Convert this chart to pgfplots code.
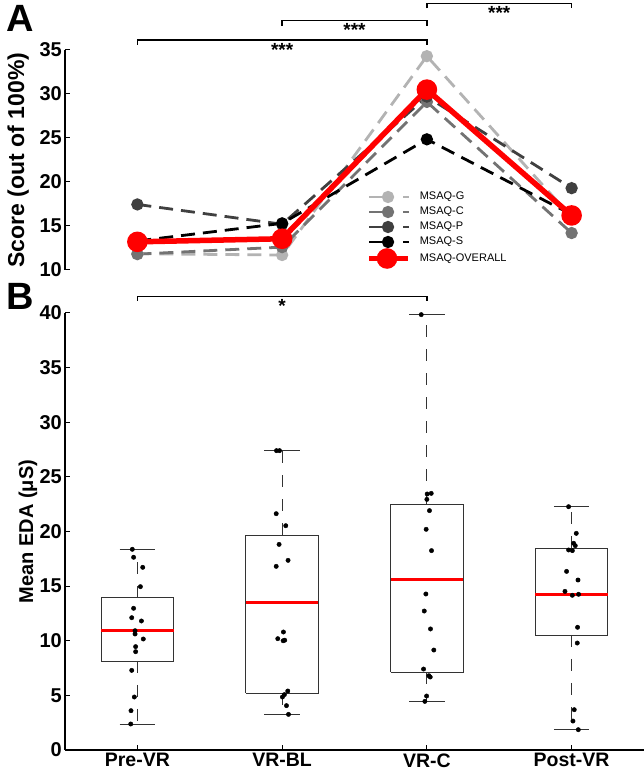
\documentclass[border=0pt]{standalone}
\usepackage{fontspec}
\setmainfont{Liberation Sans}
\usepackage{pgfplots}
\pgfplotsset{compat=1.18}

\definecolor{cG}{HTML}{B3B3B3}
\definecolor{cC}{HTML}{737373}
\definecolor{cP}{HTML}{404040}
\definecolor{boxc}{HTML}{333333}

\pgfplotsset{
  dashleg/.style={legend image code/.code={
    \draw[##1, solid, mark repeat=2, mark phase=2] plot coordinates {(0pt,0pt) (19pt,0pt) (21pt,0pt)};
    \draw[##1, solid, mark=none] (34pt,0pt) -- (40pt,0pt);
  }},
  redleg/.style={legend image code/.code={
    \draw[##1, solid, mark repeat=2, mark phase=2] plot coordinates {(0pt,0pt) (18pt,0pt) (39pt,0pt)};
  }},
  common/.style={
    scale only axis, width=579pt,
    xmin=-0.5, xmax=3.5,
    clip=false,
    tick align=inside, major tick length=5pt,
    axis line style={-, line width=1.3pt, black},
    every tick/.style={black, line width=1pt},
    /pgf/number format/assume math mode=true,
    yticklabel style={font=\fontsize{20}{20}\selectfont\bfseries, inner sep=3pt},
    xticklabel style={font=\fontsize{19.5}{19.5}\selectfont\bfseries},
  },
}

\begin{document}
\begin{tikzpicture}
\useasboundingbox (0,0) rectangle (644pt,776pt);

% ---------------- Panel A ----------------
\begin{axis}[common,
  at={(65pt,506pt)}, anchor=south west, height=220pt,
  ymin=10, ymax=35,
  axis x line=none, axis y line*=left,
  ytick={10,15,20,25,30,35},
  ylabel={Score (out of 100\%)},
  ylabel style={at={(axis description cs:-0.081,0.5)}, anchor=center, font=\fontsize{23}{23}\selectfont\bfseries},
  legend style={at={(axis cs:1.58,19.0)}, anchor=north west, draw=none, fill=none,
    inner sep=0pt, row sep=3pt,
    /tikz/every odd column/.append style={column sep=8pt},
    nodes={inner sep=1pt, text height=8pt, text depth=2pt, font=\fontsize{11}{11}\selectfont}},
  legend cell align=left,
]
\addplot[cG, line width=2.8pt, dash pattern=on 14pt off 8pt, mark=*, mark size=4.7pt, mark options={solid}, dashleg]
  coordinates {(0,11.85) (1,11.7) (2,34.3) (3,16.0)};
\addlegendentry{MSAQ-G}
\addplot[cC, line width=2.8pt, dash pattern=on 14pt off 8pt, mark=*, mark size=4.7pt, mark options={solid}, dashleg]
  coordinates {(0,11.8) (1,12.6) (2,29.1) (3,14.2)};
\addlegendentry{MSAQ-C}
\addplot[cP, line width=2.8pt, dash pattern=on 14pt off 8pt, mark=*, mark size=4.7pt, mark options={solid}, dashleg]
  coordinates {(0,17.45) (1,15.2) (2,29.7) (3,19.3)};
\addlegendentry{MSAQ-P}
\addplot[black, line width=2.8pt, dash pattern=on 14pt off 8pt, mark=*, mark size=4.7pt, mark options={solid}, dashleg]
  coordinates {(0,13.3) (1,15.3) (2,24.85) (3,16.3)};
\addlegendentry{MSAQ-S}
\addplot[red, line width=5.5pt, mark=*, mark size=7.5pt, mark options={solid}, redleg]
  coordinates {(0,13.2) (1,13.55) (2,30.5) (3,16.2)};
\addlegendentry{MSAQ-OVERALL}

% significance brackets
\draw[black, line width=1.5pt] (axis cs:0,35.57) -- (axis cs:0,36.14) -- (axis cs:2,36.14) -- (axis cs:2,35.57);
\node[anchor=north, font=\fontsize{19}{19}\selectfont\bfseries, inner sep=0pt] at (axis cs:1,35.8) {***};
\draw[black, line width=1.5pt] (axis cs:1,37.78) -- (axis cs:1,38.35) -- (axis cs:2,38.35) -- (axis cs:2,37.78);
\node[anchor=north, font=\fontsize{19}{19}\selectfont\bfseries, inner sep=0pt] at (axis cs:1.5,38.0) {***};
\draw[black, line width=1.5pt] (axis cs:2,39.72) -- (axis cs:2,40.28) -- (axis cs:3,40.28) -- (axis cs:3,39.72);
\node[anchor=north, font=\fontsize{19}{19}\selectfont\bfseries, inner sep=0pt] at (axis cs:2.5,39.93) {***};
\end{axis}

% ---------------- Panel B ----------------
\begin{axis}[common,
  at={(65pt,26pt)}, anchor=south west, height=437pt,
  ymin=0, ymax=40,
  axis x line*=bottom, axis y line*=left,
  xtick={0,1,2,3}, xticklabels={Pre-VR,VR-BL,VR-C,Post-VR},
  ytick={0,5,10,15,20,25,30,35,40},
  ylabel={Mean EDA (μS)},
  ylabel style={at={(axis description cs:-0.064,0.5)}, anchor=center, font=\fontsize{20}{20}\selectfont\bfseries},
]
% whiskers (dashed)
\addplot[boxc, line width=0.9pt, dash pattern=on 12pt off 12pt] coordinates {(0,13.94) (0,18.37)};
\addplot[boxc, line width=0.9pt, dash pattern=on 12pt off 12pt] coordinates {(0,8.15) (0,2.35)};
\addplot[boxc, line width=0.9pt, dash pattern=on 12pt off 12pt] coordinates {(1,19.68) (1,27.4)};
\addplot[boxc, line width=0.9pt, dash pattern=on 12pt off 12pt] coordinates {(1,5.19) (1,3.26)};
\addplot[boxc, line width=0.9pt, dash pattern=on 12pt off 12pt] coordinates {(2,22.43) (2,39.85)};
\addplot[boxc, line width=0.9pt, dash pattern=on 12pt off 12pt] coordinates {(2,7.11) (2,4.45)};
\addplot[boxc, line width=0.9pt, dash pattern=on 12pt off 12pt] coordinates {(3,18.49) (3,22.27)};
\addplot[boxc, line width=0.9pt, dash pattern=on 12pt off 12pt] coordinates {(3,10.53) (3,1.86)};
% caps
\addplot[boxc, line width=0.9pt] coordinates {(-0.123,18.37) (0.123,18.37)};
\addplot[boxc, line width=0.9pt] coordinates {(-0.123,2.35) (0.123,2.35)};
\addplot[boxc, line width=0.9pt] coordinates {(0.877,27.4) (1.123,27.4)};
\addplot[boxc, line width=0.9pt] coordinates {(0.877,3.26) (1.123,3.26)};
\addplot[boxc, line width=0.9pt] coordinates {(1.877,39.85) (2.123,39.85)};
\addplot[boxc, line width=0.9pt] coordinates {(1.877,4.45) (2.123,4.45)};
\addplot[boxc, line width=0.9pt] coordinates {(2.877,22.27) (3.123,22.27)};
\addplot[boxc, line width=0.9pt] coordinates {(2.877,1.86) (3.123,1.86)};
% boxes
\addplot[boxc, line width=0.9pt, line join=miter] coordinates {(-0.25,8.15) (0.25,8.15) (0.25,13.94) (-0.25,13.94) (-0.25,8.15)};
\addplot[boxc, line width=0.9pt, line join=miter] coordinates {(0.75,5.19) (1.25,5.19) (1.25,19.68) (0.75,19.68) (0.75,5.19)};
\addplot[boxc, line width=0.9pt, line join=miter] coordinates {(1.75,7.11) (2.25,7.11) (2.25,22.43) (1.75,22.43) (1.75,7.11)};
\addplot[boxc, line width=0.9pt, line join=miter] coordinates {(2.75,10.53) (3.25,10.53) (3.25,18.49) (2.75,18.49) (2.75,10.53)};
% medians
\addplot[red, line width=3pt] coordinates {(-0.25,10.92) (0.25,10.92)};
\addplot[red, line width=3pt] coordinates {(0.75,13.49) (1.25,13.49)};
\addplot[red, line width=3pt] coordinates {(1.75,15.62) (2.25,15.62)};
\addplot[red, line width=3pt] coordinates {(2.75,14.25) (3.25,14.25)};
% individual points
\addplot[only marks, mark=*, mark size=2.2pt, black] coordinates {
 (-0.035,18.37) (-0.026,17.64) (0.037,16.72) (0.021,14.95) (-0.026,12.97) (-0.039,12.11)
 (0.028,11.81) (-0.016,10.92) (-0.016,10.62) (0.041,10.16) (-0.012,9.46) (-0.012,9.0)
 (-0.039,7.29) (-0.021,4.85) (-0.044,3.6) (-0.046,2.38)
 (0.961,27.4) (0.982,27.4) (0.959,21.63) (1.025,20.53) (0.979,18.82) (1.041,17.36)
 (0.959,16.81) (1.009,10.8) (0.970,10.19) (1.007,10.0) (1.018,10.05) (1.039,5.4)
 (1.016,5.07) (1.002,4.85) (1.030,4.06) (1.044,3.26)
 (1.961,39.85) (2.030,23.49) (2.002,23.43) (2.0,22.94) (2.018,21.91) (1.995,20.2)
 (2.032,18.25) (1.993,14.28) (1.982,12.72) (2.025,11.08) (2.048,9.15) (1.977,7.41)
 (2.014,6.8) (2.023,6.68) (1.998,4.94) (1.986,4.45)
 (2.979,22.27) (3.032,19.83) (3.014,18.92) (3.025,18.7) (2.979,18.31) (3.005,18.25)
 (2.965,16.35) (3.044,15.56) (2.954,14.52) (3.048,14.25) (3.005,14.16) (3.041,11.23)
 (3.039,9.79) (3.018,3.69) (3.009,2.65) (3.046,1.86)
};
% significance bracket
\draw[black, line width=1.5pt] (axis cs:0,41.13) -- (axis cs:0,41.49) -- (axis cs:2,41.49) -- (axis cs:2,41.13);
\node[anchor=north, font=\fontsize{19}{19}\selectfont\bfseries, inner sep=0pt] at (axis cs:1,41.25) {*};
\end{axis}

% panel letters
\node[font=\fontsize{38}{38}\selectfont\bfseries] at (20pt,758pt) {A};
\node[font=\fontsize{38}{38}\selectfont\bfseries] at (20pt,480pt) {B};
\end{tikzpicture}
\end{document}
